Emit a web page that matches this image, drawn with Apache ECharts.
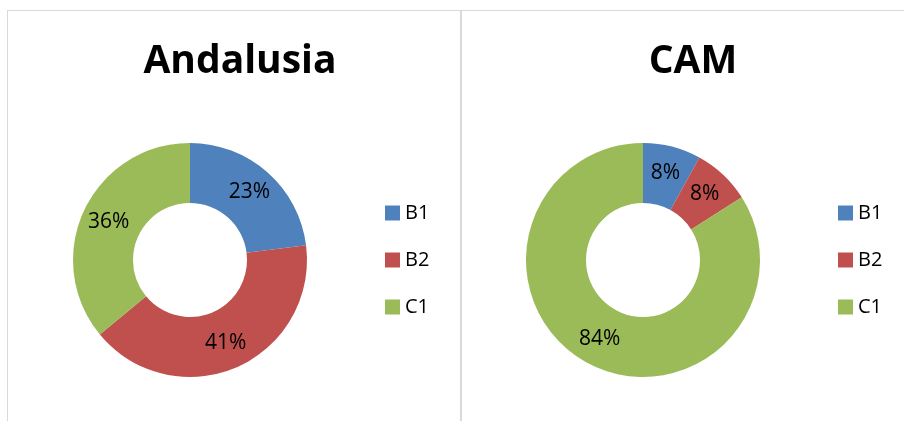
<!DOCTYPE html>
<html>
<head>
<meta charset="utf-8">
<script src="https://cdn.jsdelivr.net/npm/echarts@6/dist/echarts.min.js"></script>
<style>
	html, body { margin: 0; padding: 0; background: #fff; }
	#main { width: 904px; height: 421px; }
</style>
</head>
<body>
<div id="main"></div>
<script>
var categories = ['B1', 'B2', 'C1'];
var andaluciaValues = [23, 41, 36];
var camValues = [8, 8, 84];
var chartTitles = ['Andalusia', 'CAM'];
var colors = ['#4F81BD', '#C0504D', '#9BBB59'];

var fontName = '"Open Sans", "Liberation Sans", sans-serif';

function toPieData(values) {
	var arr = [];
	for (var i = 0; i < categories.length; i++) {
		arr.push({ name: categories[i], value: values[i] });
	}
	return arr;
}

function pieSeries(values, cx) {
	return {
		type: 'pie',
		center: [cx, 260],
		radius: [57, 117],
		startAngle: 90,
		clockwise: true,
		avoidLabelOverlap: false,
		silent: true,
		itemStyle: { borderColor: '#fff', borderWidth: 0 },
		label: {
			show: true,
			position: 'inside',
			color: '#000',
			fontFamily: fontName,
			fontSize: 21,
			formatter: function (p) {
				return Math.round(p.percent) + '%';
			}
		},
		labelLine: { show: false },
		data: toPieData(values)
	};
}

function legendAt(x) {
	return {
		orient: 'vertical',
		left: x,
		top: 203,
		padding: 0,
		itemWidth: 15,
		itemHeight: 15,
		itemGap: 27,
		icon: 'rect',
		data: categories,
		textStyle: { fontFamily: fontName, fontSize: 20, color: '#000' }
	};
}

var myChart = echarts.init(document.getElementById('main'));

var option = {
	animation: false,
	color: colors,
	title: [{
		text: chartTitles[0],
		left: 235,
		top: 37,
		textAlign: 'center',
		textStyle: { fontFamily: fontName, fontWeight: 'bold', fontSize: 39, color: '#000' }
	}, {
		text: chartTitles[1],
		left: 688,
		top: 37,
		textAlign: 'center',
		textStyle: { fontFamily: fontName, fontWeight: 'bold', fontSize: 39, color: '#000' }
	}],
	legend: [legendAt(385), legendAt(838)],
	graphic: [
		{ type: 'line', shape: { x1: 7.5, y1: 10, x2: 7.5, y2: 421 }, style: { stroke: '#d9d9d9', lineWidth: 1 } },
		{ type: 'line', shape: { x1: 7, y1: 10.5, x2: 904, y2: 10.5 }, style: { stroke: '#d9d9d9', lineWidth: 1 } },
		{ type: 'line', shape: { x1: 461, y1: 10, x2: 461, y2: 421 }, style: { stroke: '#d9d9d9', lineWidth: 2 } }
	],
	series: [
		pieSeries(andaluciaValues, 190),
		pieSeries(camValues, 643)
	]
};

myChart.setOption(option);
</script>
</body>
</html>
